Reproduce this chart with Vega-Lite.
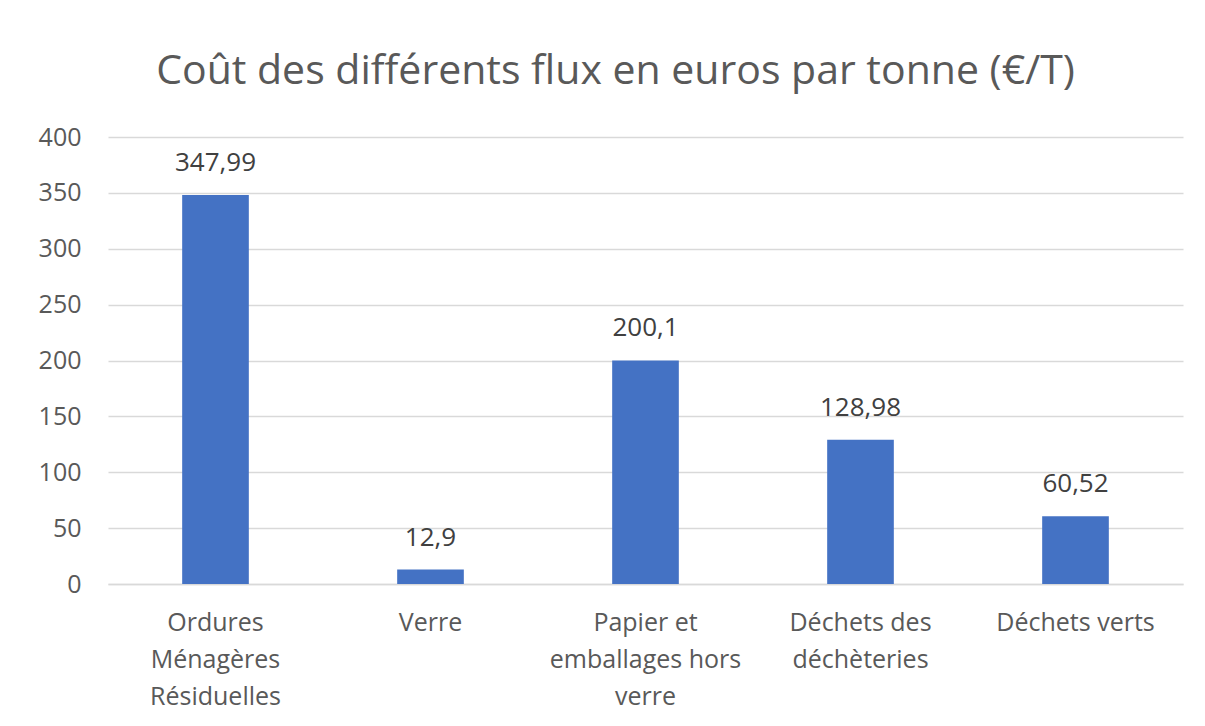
{
  "$schema": "https://vega.github.io/schema/vega-lite/v6.json",
  "autosize": {"type": "none"},
  "width": 1075,
  "height": 447,
  "padding": {"left": 108, "top": 137, "right": 22, "bottom": 142},
  "background": "white",
  "config": {
    "locale": {"number": {"decimal": ",", "thousands": " ", "grouping": [3], "currency": ["", " €"]}},
    "view": {"stroke": null},
    "font": "Open Sans"
  },
  "title": {
    "text": "Coût des différents flux en euros par tonne (€/T)",
    "fontSize": 41,
    "fontWeight": "normal",
    "color": "#595959",
    "anchor": "middle",
    "dx": -30,
    "offset": 32,
    "font": "Open Sans"
  },
  "data": {
    "values": [
      {"flux": "Ordures Ménagères Résiduelles", "cout": 347.99},
      {"flux": "Verre", "cout": 12.9},
      {"flux": "Papier et emballages hors verre", "cout": 200.1},
      {"flux": "Déchets des déchèteries", "cout": 128.98},
      {"flux": "Déchets verts", "cout": 60.52}
    ]
  },
  "encoding": {
    "x": {
      "field": "flux",
      "type": "nominal",
      "sort": null,
      "scale": {"paddingInner": 0.69, "paddingOuter": 0.345},
      "axis": {
        "title": null,
        "labelAngle": 0,
        "domain": true,
        "domainColor": "#D9D9D9",
        "domainWidth": 1.5,
        "ticks": false,
        "labelPadding": 26,
        "labelFontSize": 25,
        "labelColor": "#595959",
        "labelLineHeight": 37,
        "labelBaseline": "top",
        "labelLimit": 300,
        "labelExpr": "datum.value == 'Ordures Ménagères Résiduelles' ? ['Ordures', 'Ménagères', 'Résiduelles'] : datum.value == 'Papier et emballages hors verre' ? ['Papier et', 'emballages hors', 'verre'] : datum.value == 'Déchets des déchèteries' ? ['Déchets des', 'déchèteries'] : datum.value"
      }
    },
    "y": {
      "field": "cout",
      "type": "quantitative",
      "scale": {"domain": [0, 400]},
      "axis": {
        "title": null,
        "values": [0, 50, 100, 150, 200, 250, 300, 350, 400],
        "domain": false,
        "ticks": false,
        "labelPadding": 27,
        "labelFontSize": 25,
        "labelColor": "#595959",
        "gridColor": "#D9D9D9",
        "gridWidth": 1.5
      }
    }
  },
  "layer": [
    {"mark": {"type": "bar", "color": "#4472C4"}},
    {
      "mark": {"type": "text", "baseline": "alphabetic", "dy": -24, "fontSize": 26, "color": "#404040"},
      "encoding": {"text": {"field": "cout", "type": "quantitative", "format": ".2~f"}}
    }
  ]
}
